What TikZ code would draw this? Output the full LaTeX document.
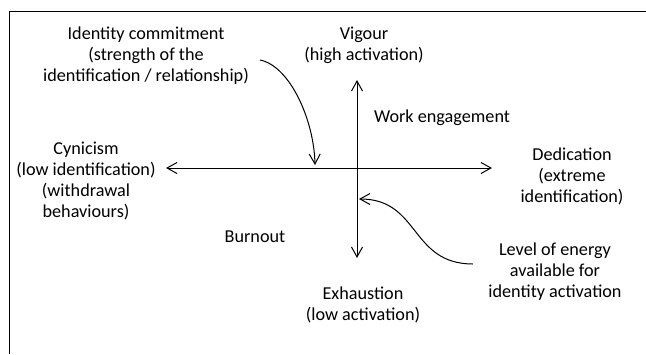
\documentclass[tikz,border=0pt]{standalone}
\usepackage{fontspec}
\setmainfont{Carlito}
\usetikzlibrary{arrows.meta}

\begin{document}
\begin{tikzpicture}[x=1pt,y=-1pt,>={Straight Barb[length=10pt,width=11pt]},line width=1pt,
  every node/.style={font=\fontsize{18.2}{21}\selectfont,align=center,inner sep=0pt}]
\useasboundingbox (0,0) rectangle (646,354);
\draw[line width=0.9pt] (646,11) -- (9,11) -- (9,354);
% axes
\coordinate (vtop) at (357,80);
\coordinate (vbot) at (357,258);
\coordinate (hleft) at (166,168);
\coordinate (hright) at (492,168);
\draw[<->] (vbot) -- (vtop);
\draw[<->] (hleft) -- (hright);
% labels
\node (commit) at (146,56) {Identity commitment\\(strength of the\\identification / relationship)};
\node (vigour) at (364,45) {Vigour\\(high activation)};
\node (work) at (442,118) {Work engagement};
\node (dedic) at (572,176) {Dedication\\(extreme\\identification)};
\node (cynic) at (86,181) {Cynicism\\(low identification)\\(withdrawal\\behaviours)};
\node (burnout) at (255,237) {Burnout};
\node (exhaust) at (363,305) {Exhaustion\\(low activation)};
\node (energy) at (555,272) {Level of energy\\available for\\identity activation};
% curved pointers
\coordinate (c1) at (260,60);
\coordinate (c1end) at (315,165);
\coordinate (c2) at (473,264);
\coordinate (c2end) at (359,199);
\draw[->] (c1) .. controls (290,66) and (314,120) .. (c1end);
\draw[->] (c2) .. controls (410,264) and (420,199) .. (c2end);
\end{tikzpicture}
\end{document}
